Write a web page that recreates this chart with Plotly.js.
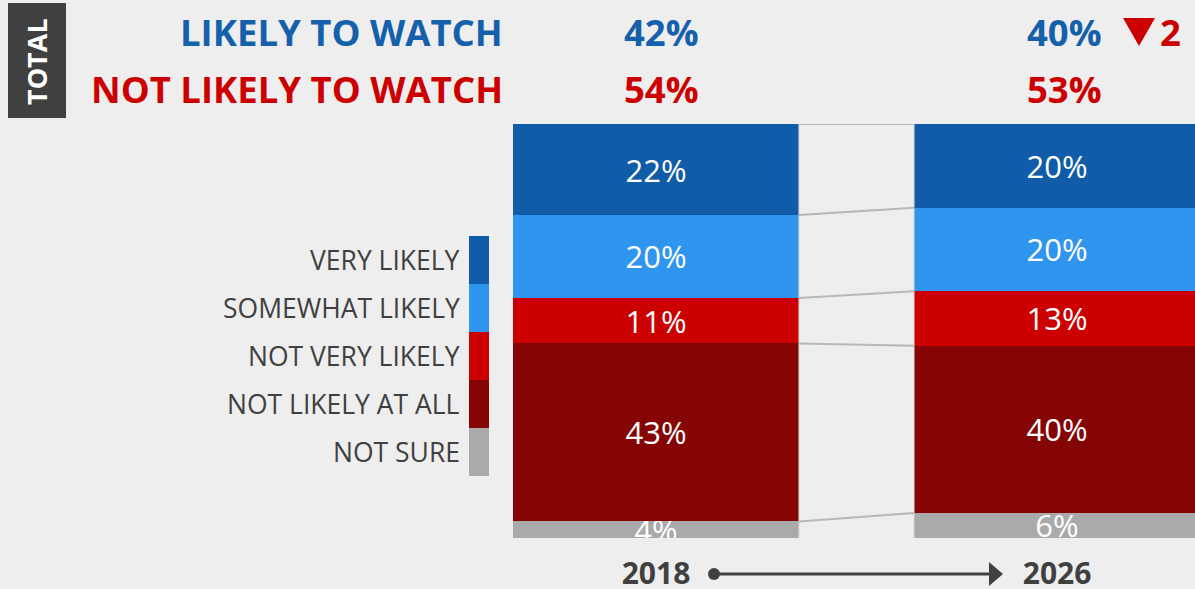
<!DOCTYPE html>
<html>
<head>
<meta charset="utf-8">
<script src="https://cdn.plot.ly/plotly-3.0.1.min.js"></script>
<style>
  html, body { margin: 0; padding: 0; background: #eeeeee; }
  #chart { width: 1195px; height: 589px; }
</style>
</head>
<body>
<div id="chart"></div>
<script>
// ---- data ----
const years = ['2018', '2026'];
const categories = ['VERY LIKELY', 'SOMEWHAT LIKELY', 'NOT VERY LIKELY', 'NOT LIKELY AT ALL', 'NOT SURE'];
const veryLikely = [22, 20];
const somewhatLikely = [20, 20];
const notVeryLikely = [11, 13];
const notLikelyAtAll = [43, 40];
const notSure = [4, 6];
const headerLikely = 'LIKELY TO WATCH';
const headerNotLikely = 'NOT LIKELY TO WATCH';
const boxLabel = 'TOTAL';

// ---- styles ----
const colors = ['#105ca8', '#3095ef', '#cc0000', '#850505', '#aaaaaa'];
const seriesList = [veryLikely, somewhatLikely, notVeryLikely, notLikelyAtAll, notSure];
const FONT = 'Open Sans, Noto Sans, sans-serif';
const BAR_W = 0.713;
const W = 1195, H = 589, ML = 513, MR = 0, MT = 124, MB = 51;
const PW = W - ML - MR, PH = H - MT - MB;
const px = x => (x - ML) / PW;
const py = y => (H - MB - y) / PH;
const xpos = years.map((_, j) => j);

// stacked bottom-up: not sure first
const order = [4, 3, 2, 1, 0];
const traces = order.map(i => ({
  type: 'bar',
  name: categories[i],
  x: xpos,
  y: seriesList[i],
  width: BAR_W,
  marker: { color: colors[i], line: { width: 0 } },
  text: seriesList[i].map(v => v + '%'),
  textposition: 'inside',
  insidetextanchor: 'middle',
  constraintext: 'none',
  textfont: { family: FONT, size: 31, color: '#ffffff' },
  hoverinfo: 'skip',
  showlegend: false
}));

// connector lines between stacked boundaries (normalized to 100)
const totals = years.map((_, j) => seriesList.reduce((s, arr) => s + arr[j], 0));
const cum = years.map((_, j) => {
  const out = [0];
  let c = 0;
  order.forEach(i => { c += seriesList[i][j]; out.push(c / totals[j] * 100); });
  return out;
});
const cx = [], cy = [];
for (let k = 1; k < cum[0].length; k++) {
  cx.push(xpos[0] + BAR_W / 2, xpos[1] - BAR_W / 2, null);
  cy.push(cum[0][k], cum[1][k], null);
}
// faint vertical edges of bars facing each other
const ex = [xpos[0] + BAR_W / 2, xpos[0] + BAR_W / 2, null, xpos[1] - BAR_W / 2, xpos[1] - BAR_W / 2];
const ey = [0, 100, null, 0, 100];
traces.push({
  type: 'scatter', mode: 'lines', x: ex, y: ey,
  line: { color: '#d4d4d4', width: 1 }, hoverinfo: 'skip', showlegend: false,
  cliponaxis: false
});
traces.push({
  type: 'scatter', mode: 'lines', x: cx, y: cy,
  line: { color: '#b8b8b8', width: 2 }, hoverinfo: 'skip', showlegend: false,
  cliponaxis: false
});

const likely = years.map((_, j) => veryLikely[j] + somewhatLikely[j]);
const notLikely = years.map((_, j) => notVeryLikely[j] + notLikelyAtAll[j]);
const change = likely[0] - likely[1];

const BLUE = '#1560ab', RED = '#cc0000', DARK = '#404040';
const HS = 36.5;
const annotations = [
  { text: headerLikely, x: px(505), y: py(32), xanchor: 'right', yanchor: 'middle',
    font: { family: FONT, size: HS, color: BLUE, weight: 700 } },
  { text: headerNotLikely, x: px(505), y: py(89), xanchor: 'right', yanchor: 'middle',
    font: { family: FONT, size: HS, color: RED, weight: 700 } },
  { text: likely[0] + '%', x: px(661), y: py(32), xanchor: 'center', yanchor: 'middle',
    font: { family: FONT, size: HS, color: BLUE, weight: 700 } },
  { text: notLikely[0] + '%', x: px(661), y: py(89), xanchor: 'center', yanchor: 'middle',
    font: { family: FONT, size: HS, color: RED, weight: 700 } },
  { text: likely[1] + '%', x: px(1064), y: py(32), xanchor: 'center', yanchor: 'middle',
    font: { family: FONT, size: HS, color: BLUE, weight: 700 } },
  { text: notLikely[1] + '%', x: px(1064), y: py(89), xanchor: 'center', yanchor: 'middle',
    font: { family: FONT, size: HS, color: RED, weight: 700 } },
  { text: String(change), x: px(1170), y: py(32), xanchor: 'center', yanchor: 'middle',
    font: { family: FONT, size: HS, color: RED, weight: 700 } },
  { text: boxLabel, x: px(37), y: py(61), xanchor: 'center', yanchor: 'middle', textangle: -90,
    font: { family: FONT, size: 27, color: '#ffffff', weight: 700 } }
];
annotations.forEach(a => { a.xref = 'paper'; a.yref = 'paper'; a.showarrow = false; });

const shapes = [
  { type: 'rect', xref: 'paper', yref: 'paper', x0: px(8), x1: px(66), y0: py(3), y1: py(118),
    fillcolor: DARK, line: { width: 0 }, layer: 'below' },
  // down triangle marker next to change value
  { type: 'path', xref: 'paper', yref: 'paper',
    path: `M ${px(1123)} ${py(18)} L ${px(1155)} ${py(18)} L ${px(1139)} ${py(46)} Z`,
    fillcolor: RED, line: { width: 0 } }
];

// legend
categories.forEach((c, i) => {
  const top = 236 + i * 48;
  shapes.push({ type: 'rect', xref: 'paper', yref: 'paper', x0: px(469), x1: px(489),
    y0: py(top), y1: py(top + 48), fillcolor: colors[i], line: { width: 0 } });
  annotations.push({ text: c, xref: 'paper', yref: 'paper', x: px(462), y: py(top + 24),
    xanchor: 'right', yanchor: 'middle', showarrow: false,
    font: { family: FONT, size: 26.5, color: DARK } });
});

// bottom arrow 2018 -> 2026
shapes.push({ type: 'circle', xref: 'paper', yref: 'paper', x0: px(708), x1: px(720),
  y0: py(568), y1: py(580), fillcolor: DARK, line: { width: 0 } });
shapes.push({ type: 'line', xref: 'paper', yref: 'paper', x0: px(714), x1: px(992),
  y0: py(574), y1: py(574), line: { color: DARK, width: 3 } });
shapes.push({ type: 'path', xref: 'paper', yref: 'paper',
  path: `M ${px(989)} ${py(562)} L ${px(1003)} ${py(574)} L ${px(989)} ${py(586)} Z`,
  fillcolor: DARK, line: { width: 0 } });

const layout = {
  width: W, height: H,
  margin: { l: ML, r: MR, t: MT, b: MB, pad: 0 },
  paper_bgcolor: '#eeeeee', plot_bgcolor: '#eeeeee',
  barmode: 'stack', barnorm: 'percent',
  showlegend: false,
  xaxis: { type: 'linear', range: [xpos[0] - BAR_W / 2, 1.344], showgrid: false, zeroline: false,
    showline: false, ticks: '', tickmode: 'array', tickvals: xpos, ticktext: years,
    ticklabelstandoff: 15,
    tickfont: { family: FONT, size: 30, color: DARK, weight: 700 }, fixedrange: true },
  yaxis: { range: [0, 100], visible: false, showgrid: false, zeroline: false, fixedrange: true },
  annotations, shapes
};

Plotly.newPlot('chart', traces, layout, { displayModeBar: false, staticPlot: true });
</script>
</body>
</html>
